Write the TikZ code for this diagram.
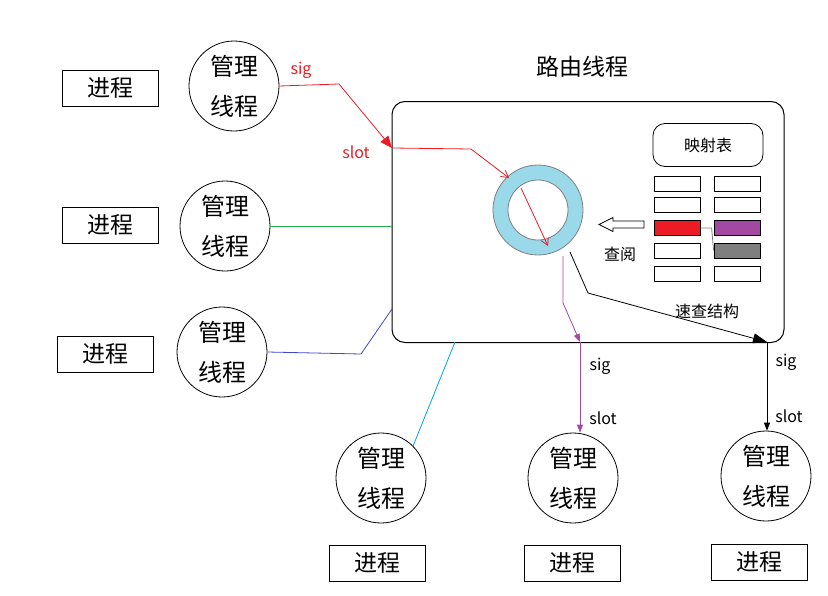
\documentclass[tikz,border=0pt]{standalone}
\usepackage{fontspec}
\setmainfont{Noto Sans CJK SC}
\usetikzlibrary{arrows.meta}
\definecolor{cred}{HTML}{ED1C24}
\definecolor{cpurple}{HTML}{A349A4}
\definecolor{cgray}{HTML}{7F7F7F}
\definecolor{cblue}{HTML}{3F48CC}
\definecolor{ccyan}{HTML}{00A2E8}
\definecolor{cgreen}{HTML}{22B14C}
\definecolor{cring}{HTML}{99D9EA}
\tikzset{
  procbox/.style={draw, line width=1pt, minimum width=96pt, minimum height=36pt, inner sep=0pt, font=\fontsize{23}{26}\selectfont},
  mgr/.style={draw, circle, line width=0.8pt, minimum size=90pt, inner sep=0pt},
  cell/.style={draw, line width=0.8pt, minimum width=46pt, minimum height=15pt, inner sep=0pt},
  lbl/.style={font=\fontsize{16}{18}\selectfont, inner sep=0pt},
  wire/.style={line width=0.8pt},
  bigtip/.style={-{Triangle[length=12pt,width=10pt]}},
  smalltip/.style={-{Triangle[length=8pt,width=6pt]}},
  opentip/.style={-{Straight Barb[length=7pt,width=8pt]}}
}
\newcommand{\mgrtext}[1]{\node[font=\fontsize{24}{26}\selectfont] at ([yshift=20pt]#1.center) {管理};\node[font=\fontsize{24}{26}\selectfont] at ([yshift=-20pt]#1.center) {线程};}
\begin{document}
\begin{tikzpicture}[x=1pt,y=-1pt]
\useasboundingbox (0,0) rectangle (828,595);
% process boxes
\node[procbox] (p1) at (110,88) {进程};
\node[procbox] (p2) at (110,225) {进程};
\node[procbox] (p3) at (105,354) {进程};
\node[procbox] (p4) at (377,563) {进程};
\node[procbox] (p5) at (572,563) {进程};
\node[procbox] (p6) at (759,562) {进程};
% manager threads
\node[mgr] (m1) at (234,86) {};
\node[mgr] (m2) at (225,226) {};
\node[mgr] (m3) at (222,352) {};
\node[mgr] (m4) at (381,478) {};
\node[mgr] (m5) at (573,478) {};
\node[mgr] (m6) at (766,476) {};
\mgrtext{m1}\mgrtext{m2}\mgrtext{m3}\mgrtext{m4}\mgrtext{m5}\mgrtext{m6}
% router
\node[font=\fontsize{23}{26}\selectfont] (title) at (582,67) {路由线程};
\node[draw, line width=1pt, rounded corners=13pt, minimum width=392pt, minimum height=241pt, inner sep=0pt] (router) at (588,222) {};
% ring
\node[circle, minimum size=90pt, inner sep=0pt] (ring) at (538,210) {};
\fill[cring, even odd rule] (ring.center) circle[radius=45] (ring.center) circle[radius=30];
\draw[cgray, line width=0.8pt] (ring.center) circle[radius=45];
\draw[cgray, line width=0.8pt] (ring.center) circle[radius=30];
\coordinate (ringin) at (509,178);
\coordinate (ringtop) at (521,188);
\coordinate (ringbot) at (548,246);
% mapping table
\node[draw, line width=0.8pt, rounded corners=12pt, minimum width=110pt, minimum height=43pt, inner sep=0pt, font=\fontsize{16}{18}\selectfont] (map) at (708,145) {映射表};
\node[cell] (a1) at (677,184) {};
\node[cell] (b1) at (737,184) {};
\node[cell] (a2) at (677,204.5) {};
\node[cell] (b2) at (737,204.5) {};
\node[cell, fill=cred] (a3) at (677,228) {};
\node[cell, fill=cpurple] (b3) at (737,228) {};
\node[cell] (a4) at (677,250.5) {};
\node[cell, fill=cgray] (b4) at (737,250.5) {};
\node[cell] (a5) at (677,273.5) {};
\node[cell] (b5) at (737,273.5) {};
\draw[cgray, line width=0.8pt] (a3.east) -- ([xshift=-2pt]b3.west) -- (b4.west);
% hollow arrow
\draw[line width=0.8pt, fill=white] (599,224.5) -- (613,217.5) -- (613,221) -- (644,221) -- (644,228) -- (613,228) -- (613,231.5) -- cycle;
\node[lbl] (chayue) at (620,254) {查阅};
\node[lbl] (sucha) at (707,311) {速查结构};
% red connector
\coordinate (r1) at (339,84);
\coordinate (rin) at (392,148);
\coordinate (r2) at (471,149);
\draw[cred, wire, bigtip] (m1.east) -- (r1) -- (rin);
\node[lbl, text=cred] (sig1) at (301,70) {sig};
\node[lbl, text=cred] (slot1) at (356,152) {slot};
\draw[cred, wire, opentip] (rin) -- (r2) -- (ringin);
\draw[cred, wire, opentip] (ringtop) -- (ringbot);
% green
\draw[cgreen, wire] (m2.east) -- (m2.east -| router.west);
% blue
\coordinate (bl1) at (361,354);
\coordinate (bl2) at (392,309);
\draw[cblue, wire] (m3.east) -- (bl1) -- (bl2);
% cyan
\coordinate (cy1) at (455,342);
\draw[ccyan, wire] (cy1) -- (m4.45);
% purple
\coordinate (pu0) at (563,256);
\coordinate (pu1) at (563,303);
\coordinate (pu2) at (580,342);
\draw[cpurple, wire, smalltip] (pu0) -- (pu1) -- (pu2);
\draw[cpurple, wire, smalltip] (pu2) -- (m5.north -| pu2);
\node[lbl] (sig2) at (600,366) {sig};
\node[lbl] (slot2) at (603,418) {slot};
% black
\coordinate (bk0) at (570,252);
\coordinate (bk1) at (588,293);
\coordinate (bk2) at (767,342);
\draw[wire, -{Triangle[length=14pt,width=10pt]}] (bk0) -- (bk1) -- (bk2);
\draw[wire, smalltip] (bk2) -- (m6.north -| bk2);
\node[lbl] (sig3) at (786,362) {sig};
\node[lbl] (slot3) at (789,416) {slot};
\end{tikzpicture}
\end{document}
